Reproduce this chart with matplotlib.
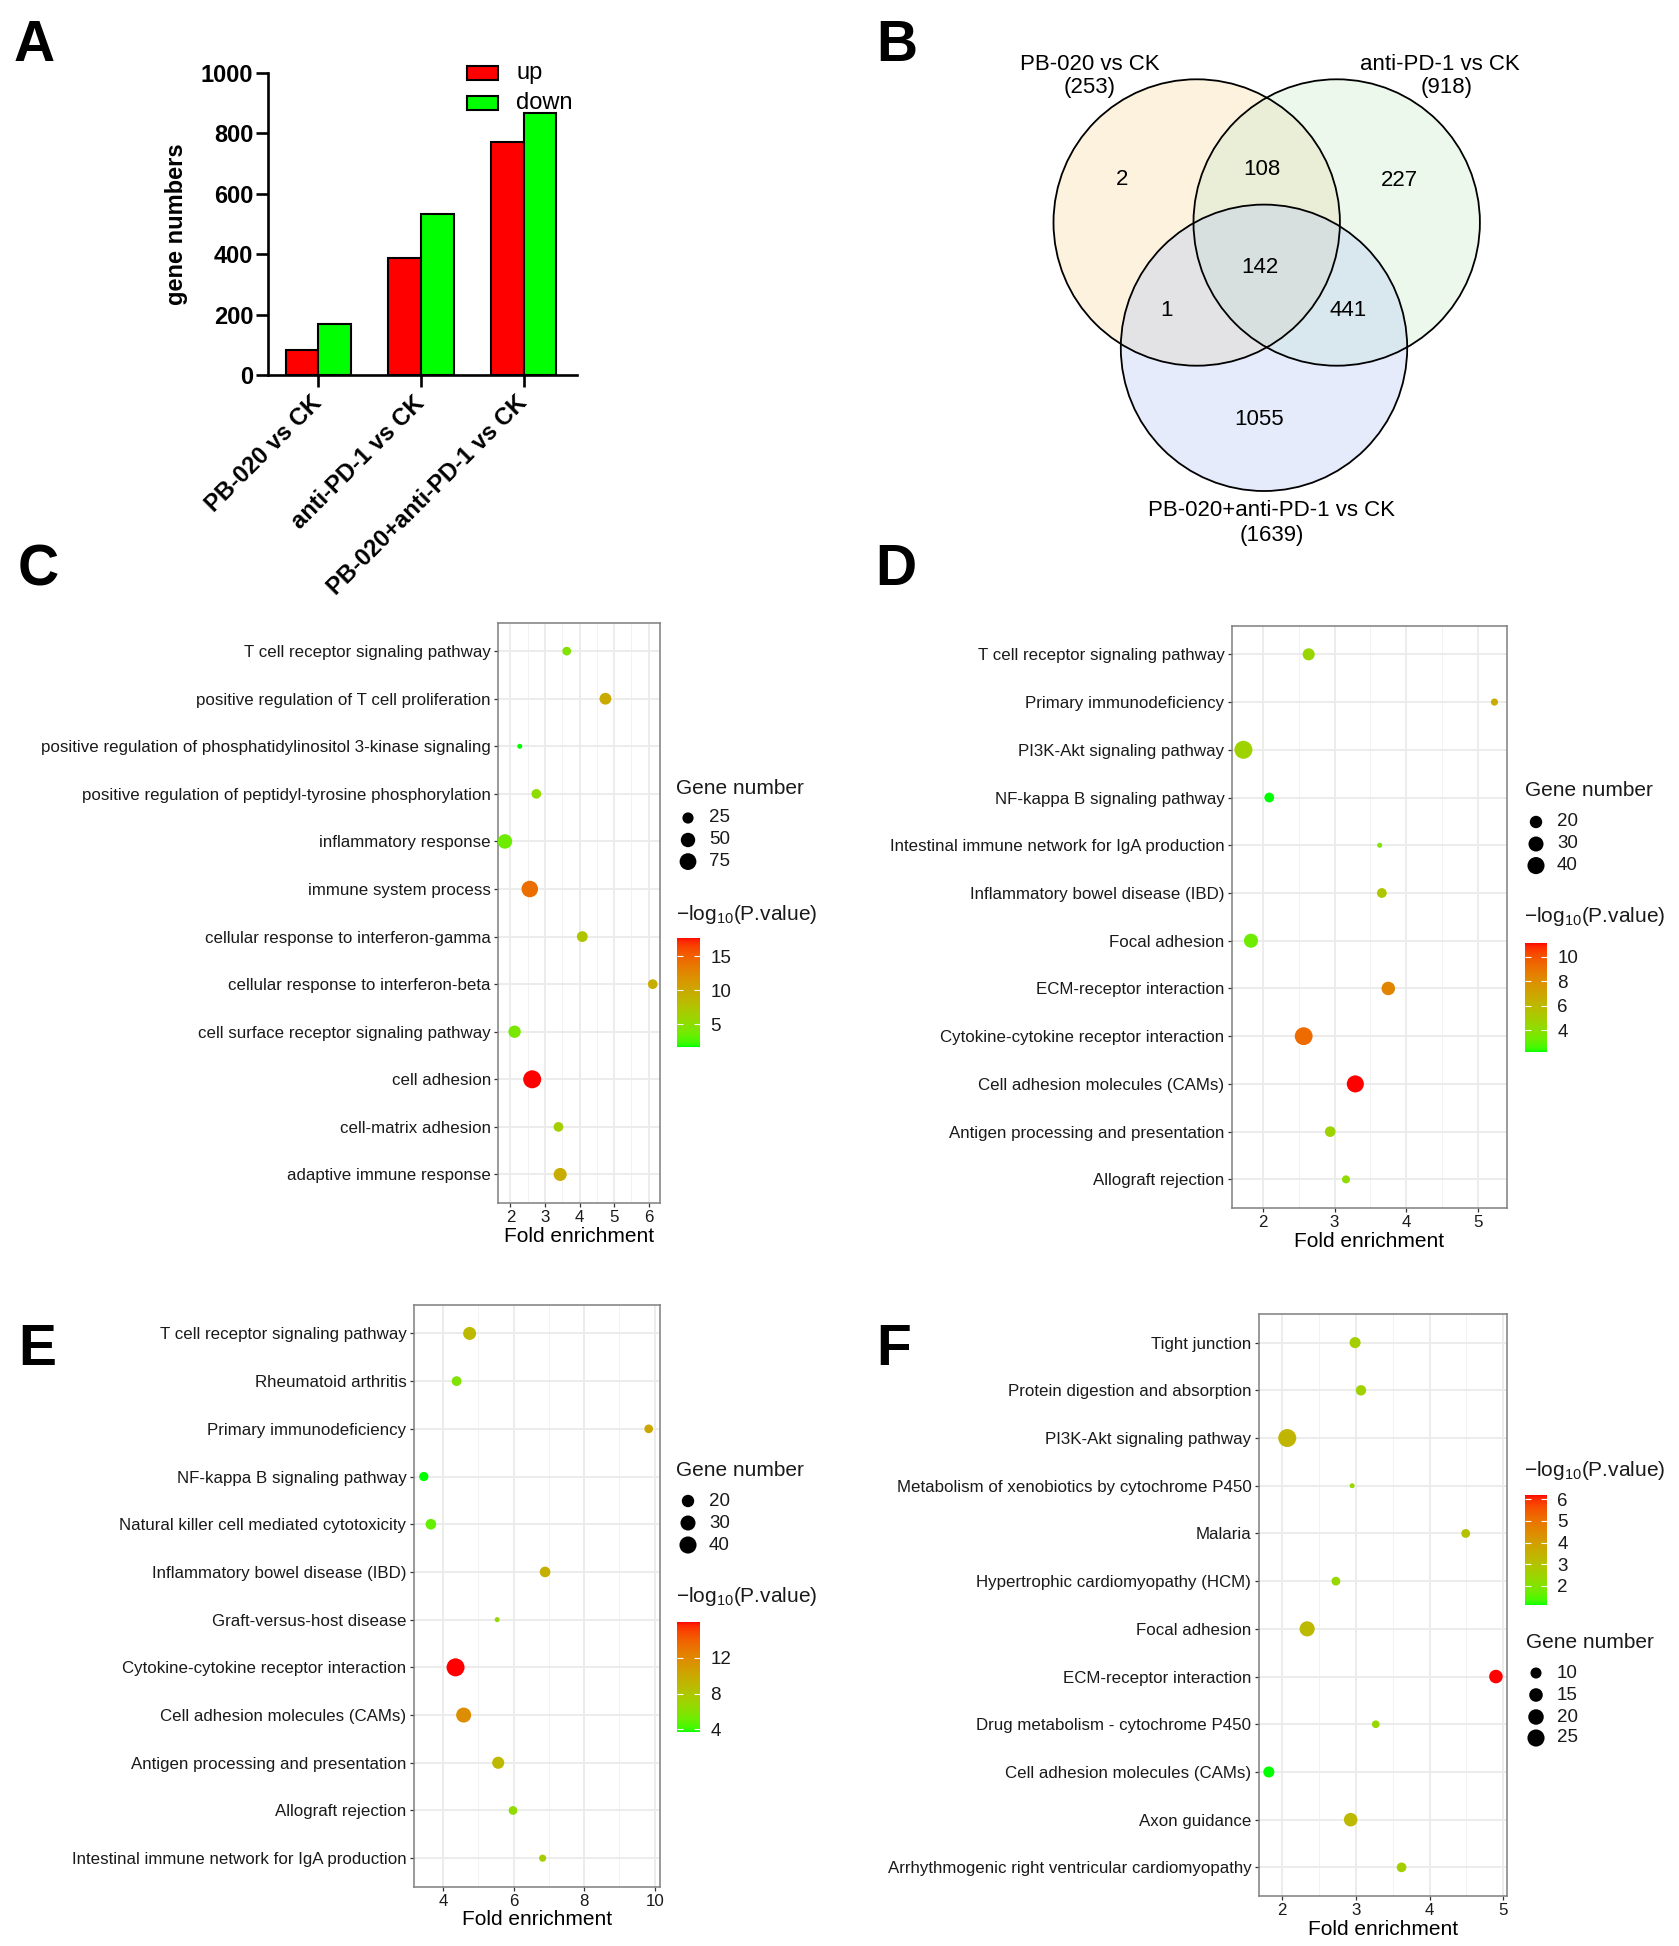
import numpy as np
import matplotlib
matplotlib.use("Agg")
import matplotlib.pyplot as plt
from matplotlib.colors import ListedColormap, Normalize
from matplotlib.patches import Circle, Rectangle
from matplotlib.cm import ScalarMappable

plt.rcParams['font.family'] = ['Liberation Sans', 'DejaVu Sans']
plt.rcParams['mathtext.fontset'] = 'custom'
plt.rcParams['mathtext.rm'] = 'Liberation Sans'
plt.rcParams['mathtext.it'] = 'Liberation Sans:italic'
plt.rcParams['mathtext.bf'] = 'Liberation Sans:bold'

# ------------------------------------------------------------------ data
# Panel A
groups = ['PB-020 vs CK', 'anti-PD-1 vs CK', 'PB-020+anti-PD-1 vs CK']
up_counts = [83, 386, 771]
down_counts = [170, 532, 868]

# Panel B (Venn)
venn_names = ['PB-020 vs CK', 'anti-PD-1 vs CK', 'PB-020+anti-PD-1 vs CK']
venn_totals = [253, 918, 1639]
venn_only1, venn_12, venn_only2 = 2, 108, 227
venn_123, venn_13, venn_23, venn_only3 = 142, 1, 441, 1055

# Panel C (GO)
c_terms = ['T cell receptor signaling pathway',
           'positive regulation of T cell proliferation',
           'positive regulation of phosphatidylinositol 3-kinase signaling',
           'positive regulation of peptidyl-tyrosine phosphorylation',
           'inflammatory response',
           'immune system process',
           'cellular response to interferon-gamma',
           'cellular response to interferon-beta',
           'cell surface receptor signaling pathway',
           'cell adhesion',
           'cell-matrix adhesion',
           'adaptive immune response']
c_fold = [3.63, 4.75, 2.27, 2.75, 1.84, 2.56, 4.08, 6.12, 2.12, 2.63, 3.39, 3.44]
c_genes = [13, 29, 6, 17, 51, 72, 23, 17, 33, 90, 17, 38]
c_logp = [4.6, 9.8, 1.66, 5.2, 3.6, 14.3, 7.3, 9.5, 4.1, 17.7, 6.5, 9.6]
c_size_breaks = [25, 50, 75]
c_cbar_ticks = [5, 10, 15]

# Panel D (KEGG)
d_terms = ['T cell receptor signaling pathway',
           'Primary immunodeficiency',
           'PI3K-Akt signaling pathway',
           'NF-kappa B signaling pathway',
           'Intestinal immune network for IgA production',
           'Inflammatory bowel disease (IBD)',
           'Focal adhesion',
           'ECM-receptor interaction',
           'Cytokine-cytokine receptor interaction',
           'Cell adhesion molecules (CAMs)',
           'Antigen processing and presentation',
           'Allograft rejection']
d_fold = [2.64, 5.23, 1.73, 2.09, 3.63, 3.66, 1.835, 3.75, 2.57, 3.29, 2.94, 3.16]
d_genes = [19, 9, 45, 13, 8, 13, 26, 24, 44, 40, 15, 10]
d_logp = [4.5, 6.7, 4.7, 2.25, 3.85, 5.35, 3.3, 8.3, 9.3, 11.1, 4.7, 4.2]
d_size_breaks = [20, 30, 40]
d_cbar_ticks = [4, 6, 8, 10]

# Panel E (KEGG)
e_terms = ['T cell receptor signaling pathway',
           'Rheumatoid arthritis',
           'Primary immunodeficiency',
           'NF-kappa B signaling pathway',
           'Natural killer cell mediated cytotoxicity',
           'Inflammatory bowel disease (IBD)',
           'Graft-versus-host disease',
           'Cytokine-cytokine receptor interaction',
           'Cell adhesion molecules (CAMs)',
           'Antigen processing and presentation',
           'Allograft rejection',
           'Intestinal immune network for IgA production']
e_fold = [4.75, 4.38, 9.83, 3.45, 3.65, 6.89, 5.53, 4.35, 4.58, 5.56, 5.98, 6.82]
e_genes = [22, 13, 11, 12, 15, 15, 8, 45, 30, 19, 11, 9]
e_logp = [8.9, 5.9, 10.1, 3.7, 4.9, 9.6, 6.8, 16.0, 11.7, 8.9, 6.4, 7.4]
e_size_breaks = [20, 30, 40]
e_cbar_ticks = [4, 8, 12]

# Panel F (KEGG)
f_terms = ['Tight junction',
           'Protein digestion and absorption',
           'PI3K-Akt signaling pathway',
           'Metabolism of xenobiotics by cytochrome P450',
           'Malaria',
           'Hypertrophic cardiomyopathy (HCM)',
           'Focal adhesion',
           'ECM-receptor interaction',
           'Drug metabolism - cytochrome P450',
           'Cell adhesion molecules (CAMs)',
           'Axon guidance',
           'Arrhythmogenic right ventricular cardiomyopathy']
f_fold = [2.99, 3.07, 2.07, 2.95, 4.49, 2.73, 2.34, 4.90, 3.27, 1.82, 2.93, 3.62]
f_genes = [10, 9, 28, 5, 7, 7, 19, 15, 6, 10, 15, 8]
f_logp = [2.65, 2.55, 3.4, 2.4, 3.05, 2.4, 3.3, 6.2, 2.4, 1.12, 3.3, 2.65]
f_size_breaks = [10, 15, 20, 25]
f_cbar_ticks = [2, 3, 4, 5, 6]

# ------------------------------------------------------------------ helpers
W, H, DPI = 1679, 1946, 100
fig = plt.figure(figsize=(W / DPI, H / DPI), dpi=DPI)
PX = 72.0 / DPI  # points per pixel


def add_ax(l, t, r, b):
    return fig.add_axes([l / W, 1 - b / H, (r - l) / W, (b - t) / H])


M = np.array([[0.4124564, 0.3575761, 0.1804375],
              [0.2126729, 0.7151522, 0.0721750],
              [0.0193339, 0.1191920, 0.9503041]])
WP = np.array([0.95047, 1.0, 1.08883])


def srgb_to_lab(c):
    c = np.asarray(c, float)
    lin = np.where(c <= 0.04045, c / 12.92, ((c + 0.055) / 1.055) ** 2.4)
    t = (M @ lin) / WP
    d = 6 / 29
    f = np.where(t > d ** 3, np.cbrt(t), t / (3 * d * d) + 4 / 29)
    return np.array([116 * f[1] - 16, 500 * (f[0] - f[1]), 200 * (f[1] - f[2])])


def lab_to_srgb(lab):
    L, a, b = lab
    fy = (L + 16) / 116
    fx = fy + a / 500
    fz = fy - b / 200
    d = 6 / 29
    finv = lambda f: np.where(f > d, f ** 3, 3 * d * d * (f - 4 / 29))
    xyz = np.stack([finv(fx) * WP[0], finv(fy) * WP[1], finv(fz) * WP[2]])
    lin = np.clip(np.linalg.inv(M) @ xyz, 0, 1)
    return np.clip(np.where(lin <= 0.0031308, 12.92 * lin,
                            1.055 * lin ** (1 / 2.4) - 0.055), 0, 1)


lab_lo = srgb_to_lab([0, 1, 0])
lab_hi = srgb_to_lab([1, 0, 0])
tt = np.linspace(0, 1, 256)
labs = lab_lo[:, None] * (1 - tt) + lab_hi[:, None] * tt
cmap = ListedColormap(lab_to_srgb(labs).T)


def diam_px(v, vmin, vmax, dmin=5.0, dmax=18.0):
    v = np.asarray(v, float)
    frac = np.clip((v - vmin) / (vmax - vmin), 0, 1)
    return dmin + (dmax - dmin) * np.sqrt(frac)


overlay = fig.add_axes([0, 0, 1, 1], zorder=10)
overlay.set_xlim(0, W)
overlay.set_ylim(H, 0)
overlay.axis('off')
overlay.patch.set_alpha(0)

TXT = '#1a1a1a'
CB_TITLE = r'$-\mathrm{log}_{10}$(P.value)'


def dot_panel(box, terms, fold, genes, logp, xlim, xticks, xminor,
              size_breaks, cbar_ticks, cbar_box, cbar_title_y,
              leg_title_xy, leg_ys, leg_dot_x, leg_lab_x):
    ax = add_ax(*box)
    n = len(terms)
    y = np.arange(n)[::-1]
    norm = Normalize(min(logp), max(logp))
    gmin, gmax = min(genes), max(genes)
    d = diam_px(genes, gmin, gmax)
    ax.scatter(fold, y, s=(d * PX) ** 2, c=logp, cmap=cmap, norm=norm,
               linewidths=0, zorder=3)
    ax.set_xlim(*xlim)
    ax.set_ylim(-0.6, n - 0.4)
    ax.set_yticks(y)
    ax.set_yticklabels(terms)
    ax.set_xticks(xticks)
    ax.set_xticks(xminor, minor=True)
    ax.grid(True, which='major', color='#EBEBEB', lw=1.3, zorder=0)
    ax.grid(True, which='minor', axis='x', color='#F2F2F2', lw=0.7, zorder=0)
    ax.set_axisbelow(True)
    for s in ax.spines.values():
        s.set_color('#7F7F7F')
        s.set_linewidth(1.1)
    ax.tick_params(axis='both', which='major', labelsize=12.2, length=3.2,
                   width=0.9, color='#333333', labelcolor=TXT, pad=2)
    ax.tick_params(axis='x', which='minor', length=0)
    ax.set_xlabel('Fold enrichment', fontsize=15, color='black', labelpad=1)

    # colour bar
    cax = add_ax(*cbar_box)
    cb = fig.colorbar(ScalarMappable(norm=norm, cmap=cmap), cax=cax)
    cb.outline.set_visible(False)
    cb.set_ticks(cbar_ticks)
    cax.tick_params(axis='y', which='major', direction='in', length=4.5,
                    width=0.8, color='white', labelcolor=TXT, labelsize=13.5,
                    left=True, right=True, labelleft=False, labelright=True,
                    pad=7.5)
    cax.tick_params(axis='y', which='minor', length=0)
    overlay.text(cbar_box[0] - 1, cbar_title_y, CB_TITLE,
                 fontsize=15, va='center', ha='left', color=TXT)

    # size legend
    overlay.text(leg_title_xy[0], leg_title_xy[1], 'Gene number', fontsize=15,
                 va='center', ha='left', color=TXT)
    ld = diam_px(size_breaks, gmin, gmax)
    overlay.scatter([leg_dot_x] * len(size_breaks), leg_ys, s=(ld * PX) ** 2,
                    color='black', linewidths=0)
    for yy, v in zip(leg_ys, size_breaks):
        overlay.text(leg_lab_x, yy, str(v), fontsize=13.5, va='center',
                     ha='left', color=TXT)
    return ax


# ------------------------------------------------------------------ Panel A
axA = add_ax(268.3, 72.7, 577, 375)
xg = np.arange(len(groups))
axA.bar(xg - 0.16, up_counts, width=0.32, color='#FF0000', edgecolor='black',
        linewidth=1.5, label='up', zorder=2)
axA.bar(xg + 0.16, down_counts, width=0.32, color='#00FF00', edgecolor='black',
        linewidth=1.5, label='down', zorder=2)
axA.set_xlim(-0.488, 2.52)
axA.set_ylim(0, 1000)
axA.spines['top'].set_visible(False)
axA.spines['right'].set_visible(False)
for s in ('left', 'bottom'):
    axA.spines[s].set_linewidth(1.9)
axA.set_yticks(np.arange(0, 1001, 200))
axA.set_yticklabels([str(v) for v in range(0, 1001, 200)], fontweight='bold',
                    fontsize=17)
axA.set_xticks(xg)
axA.set_xticklabels(groups, rotation=45, ha='right', va='center',
                    rotation_mode='anchor', fontweight='bold', fontsize=17)
axA.tick_params(axis='y', length=8.8, width=1.9, pad=2)
axA.tick_params(axis='x', length=8.8, width=1.9, pad=9)
axA.set_ylabel('gene numbers', fontweight='bold', fontsize=17, labelpad=9)

overlay.add_patch(Rectangle((467, 66), 30.5, 14, facecolor='#FF0000',
                            edgecolor='black', lw=1.5))
overlay.add_patch(Rectangle((467, 96), 30.5, 14, facecolor='#00FF00',
                            edgecolor='black', lw=1.5))
overlay.text(516, 73, 'up', fontsize=17, va='center', ha='left')
overlay.text(516, 103, 'down', fontsize=17, va='center', ha='left')

# ------------------------------------------------------------------ Panel B
axB = add_ax(840, 0, 1679, 580)
axB.set_xlim(840, 1679)
axB.set_ylim(580, 0)
axB.axis('off')
circ = [((1196.7, 222.5), 143.2, '#F8D491'),
        ((1336.7, 222.5), 143.2, '#C6E8C6'),
        ((1264.0, 347.8), 143.2, '#ACC0F5')]
for (c, r, col) in circ:
    axB.add_patch(Circle(c, r, facecolor=col, alpha=0.3, edgecolor='none'))
for (c, r, col) in circ:
    axB.add_patch(Circle(c, r, facecolor='none', edgecolor='black', lw=1.3))
venn_vals = [venn_only1, venn_12, venn_only2, venn_123, venn_13, venn_23,
             venn_only3]
venn_pos = [(1121.7, 179.3), (1262.3, 169.3), (1399.0, 180.7), (1260.0, 267.3),
            (1166.7, 310.0), (1347.7, 310.0), (1259.3, 419.3)]
for v, (px, py) in zip(venn_vals, venn_pos):
    axB.text(px, py, str(v), fontsize=16, ha='center', va='center')
venn_lab_pos = [(1090, 65, 88), (1440, 65, 88), (1272, 510, 535)]
for name, tot, (px, py1, py2) in zip(venn_names, venn_totals, venn_lab_pos):
    axB.text(px, py1, name, fontsize=16, ha='center', va='center')
    axB.text(px + (0 if tot != 918 else 7), py2, '(%d)' % tot, fontsize=16,
             ha='center', va='center')

# ------------------------------------------------------------------ Panels C-F
dot_panel((498, 622.6, 660, 1203), c_terms, c_fold, c_genes, c_logp,
          (1.64, 6.33), [2, 3, 4, 5, 6], [2.5, 3.5, 4.5, 5.5],
          c_size_breaks, c_cbar_ticks, (677, 937.7, 700, 1046.7), 915,
          (676, 788), [818, 840, 861.6], 688, 709)

dot_panel((1231.6, 625.7, 1507, 1208), d_terms, d_fold, d_genes, d_logp,
          (1.565, 5.405), [2, 3, 4, 5], [2.5, 3.5, 4.5],
          d_size_breaks, d_cbar_ticks, (1525, 943, 1547, 1052), 917,
          (1525, 791), [822, 844, 865.6], 1536, 1557)

dot_panel((413.6, 1304.8, 660, 1886.8), e_terms, e_fold, e_genes, e_logp,
          (3.16, 10.15), [4, 6, 8, 10], [5, 7, 9],
          e_size_breaks, e_cbar_ticks, (677, 1622, 700, 1732), 1597,
          (676, 1470), [1501, 1523, 1545], 688, 709)

dot_panel((1258.5, 1314, 1507, 1896), f_terms, f_fold, f_genes, f_logp,
          (1.68, 5.05), [2, 3, 4, 5], [2.5, 3.5, 4.5],
          f_size_breaks, f_cbar_ticks, (1525, 1495, 1547, 1605), 1470,
          (1526, 1643), [1673, 1695, 1717, 1738], 1536, 1557)

# ------------------------------------------------------------------ letters
for L, (lx, ly) in {'A': (14, 61), 'B': (876, 61), 'C': (18, 585),
                    'D': (875, 585), 'E': (18, 1365), 'F': (876, 1365)}.items():
    overlay.text(lx, ly, L, fontsize=41, fontweight='bold', ha='left',
                 va='baseline')

fig.savefig('out.png', dpi=DPI)
